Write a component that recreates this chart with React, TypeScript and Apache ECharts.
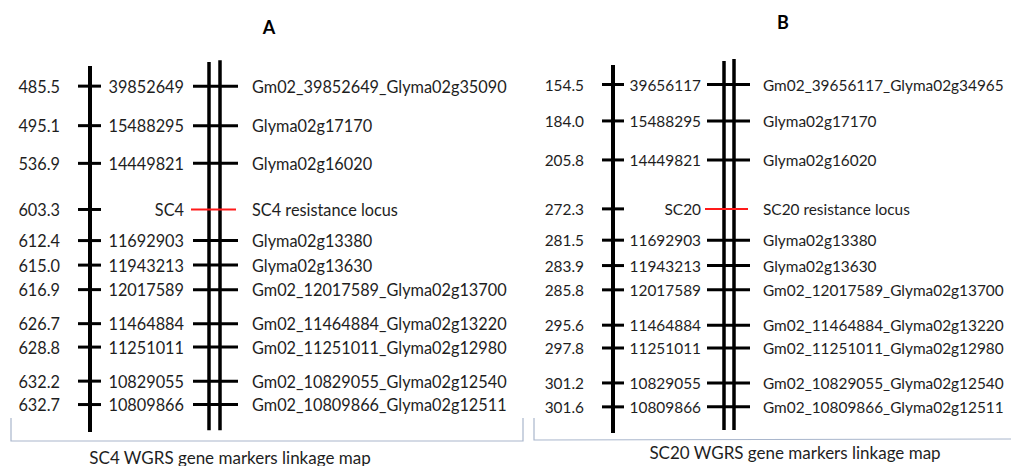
import React, { useEffect, useRef } from "react";
import * as echarts from "echarts";

// ---- Panel A data ----
const cmA = [485.5, 495.1, 536.9, 603.3, 612.4, 615.0, 616.9, 626.7, 628.8, 632.2, 632.7];
const physA = ["39852649", "15488295", "14449821", "SC4", "11692903", "11943213", "12017589", "11464884", "11251011", "10829055", "10809866"];
const namesA = [
  "Gm02_39852649_Glyma02g35090",
  "Glyma02g17170",
  "Glyma02g16020",
  "SC4 resistance locus",
  "Glyma02g13380",
  "Glyma02g13630",
  "Gm02_12017589_Glyma02g13700",
  "Gm02_11464884_Glyma02g13220",
  "Gm02_11251011_Glyma02g12980",
  "Gm02_10829055_Glyma02g12540",
  "Gm02_10809866_Glyma02g12511",
];
// drawn position along the map (% of chromosome length)
const mapPosA = [5.5, 16.3, 26.6, 39.2, 47.7, 54.4, 61.1, 70.4, 76.8, 86.1, 92.5];

// ---- Panel B data ----
const cmB = [154.5, 184.0, 205.8, 272.3, 281.5, 283.9, 285.8, 295.6, 297.8, 301.2, 301.6];
const physB = ["39656117", "15488295", "14449821", "SC20", "11692903", "11943213", "12017589", "11464884", "11251011", "10829055", "10809866"];
const namesB = [
  "Gm02_39656117_Glyma02g34965",
  "Glyma02g17170",
  "Glyma02g16020",
  "SC20 resistance locus",
  "Glyma02g13380",
  "Glyma02g13630",
  "Gm02_12017589_Glyma02g13700",
  "Gm02_11464884_Glyma02g13220",
  "Gm02_11251011_Glyma02g12980",
  "Gm02_10829055_Glyma02g12540",
  "Gm02_10809866_Glyma02g12511",
];
const mapPosB = [5.3, 15.2, 25.8, 39.1, 47.6, 54.5, 61.1, 70.7, 76.9, 86.4, 92.9];

const locusIndex = 3;
const panelTitles = ["A", "B"];
const captions = ["SC4 WGRS gene markers linkage map", "SC20 WGRS gene markers linkage map"];

const FONT = "Lato, 'Open Sans', sans-serif";
const TXT = "#1e1e1e";

type Layout = {
  gridTop: number;
  gridHeight: number;
  chromX: number;
  dblX: [number, number];
  dblTop: number;
  dblBottom: number;
  tickL: [number, number];
  tickD: [number, number];
  cmRight: number;
  physRight: number;
  nameLeft: number;
  fontSize: number;
};

const layouts: Layout[] = [
  { gridTop: 66, gridHeight: 366, chromX: 90, dblX: [209, 220], dblTop: -1.1, dblBottom: 99.5, tickL: [78, 101], tickD: [193, 238], cmRight: 60, physRight: 184, nameLeft: 252, fontSize: 16.3 },
  { gridTop: 65, gridHeight: 368, chromX: 613, dblX: [724, 734], dblTop: -1.1, dblBottom: 99.2, tickL: [602, 624], tickD: [707, 750], cmRight: 584, physRight: 701, nameLeft: 763, fontSize: 15.4 },
];

function buildPanel(idx: number, cm: number[], phys: string[], names: string[], pos: number[]) {
  const L = layouts[idx];
  const fs = L.fontSize;
  const markerSeries = {
    type: "custom",
    xAxisIndex: idx,
    yAxisIndex: idx,
    clip: false,
    silent: true,
    data: pos.map((p, i) => [0, p, i]),
    renderItem: (params: any, api: any) => {
      const i = params.dataIndex;
      const p = api.value(1);
      const [l0, y] = api.coord([L.tickL[0], p]);
      const [l1] = api.coord([L.tickL[1], p]);
      const [d0] = api.coord([L.tickD[0], p]);
      const [d1] = api.coord([L.tickD[1], p]);
      const [cx] = api.coord([L.cmRight, p]);
      const [px] = api.coord([L.physRight, p]);
      const [nx] = api.coord([L.nameLeft, p]);
      const isLocus = i === locusIndex;
      return {
        type: "group",
        children: [
          { type: "line", shape: { x1: l0, y1: y, x2: l1, y2: y }, style: { stroke: "#000", lineWidth: 3 } },
          {
            type: "line",
            shape: { x1: d0 - (isLocus ? 2 : 0), y1: y, x2: d1 - (isLocus ? 2 : 0), y2: y },
            style: { stroke: isLocus ? "#ff1a1a" : "#000", lineWidth: isLocus ? 2 : 3 },
            z2: isLocus ? 10 : 0,
          },
          { type: "text", style: { text: cm[i].toFixed(1), x: cx, y, align: "right", verticalAlign: "middle", fontSize: fs, fontFamily: FONT, fill: TXT } },
          { type: "text", style: { text: phys[i], x: px, y, align: "right", verticalAlign: "middle", fontSize: fs, fontFamily: FONT, fill: TXT } },
          { type: "text", style: { text: names[i], x: nx, y, align: "left", verticalAlign: "middle", fontSize: fs, fontFamily: FONT, fill: TXT } },
        ],
      };
    },
    z: 3,
  };
  const chromSeries = {
    type: "custom",
    xAxisIndex: idx,
    yAxisIndex: idx,
    clip: false,
    silent: true,
    data: [[0, 0, 100]],
    renderItem: (params: any, api: any) => {
      const top = api.value(1);
      const bottom = api.value(2);
      const [cx, cy0] = api.coord([L.chromX, top]);
      const [, cy1] = api.coord([L.chromX, bottom]);
      const [dx0, dy0] = api.coord([L.dblX[0], L.dblTop]);
      const [dx1, dy1] = api.coord([L.dblX[1], L.dblTop - 0.5]);
      const [, dyb] = api.coord([L.dblX[0], L.dblBottom]);
      return {
        type: "group",
        children: [
          { type: "line", shape: { x1: cx, y1: cy0, x2: cx, y2: cy1 }, style: { stroke: "#000", lineWidth: 4 } },
          { type: "line", shape: { x1: dx0, y1: dy0, x2: dx0, y2: dyb }, style: { stroke: "#000", lineWidth: 3.5 } },
          { type: "line", shape: { x1: dx1, y1: dy1, x2: dx1, y2: dyb }, style: { stroke: "#000", lineWidth: 3.5 } },
        ],
      };
    },
    z: 2,
  };
  return {
    grid: { left: 0, right: 0, top: L.gridTop, height: L.gridHeight, containLabel: false },
    xAxis: { type: "value", gridIndex: idx, min: 0, max: 1011, show: false },
    yAxis: { type: "value", gridIndex: idx, min: 0, max: 100, inverse: true, show: false },
    series: [chromSeries, markerSeries],
  };
}

export default function App() {
  const ref = useRef<HTMLDivElement>(null);
  useEffect(() => {
    if (!ref.current) return;
    const chart = echarts.init(ref.current, undefined, { renderer: "svg" });
    const pA = buildPanel(0, cmA, physA, namesA, mapPosA);
    const pB = buildPanel(1, cmB, physB, namesB, mapPosB);
    const bracketColor = "#a9b6cc";
    chart.setOption({
      animation: false,
      backgroundColor: "#ffffff",
      grid: [pA.grid, pB.grid],
      xAxis: [pA.xAxis, pB.xAxis],
      yAxis: [pA.yAxis, pB.yAxis],
      series: [...pA.series, ...pB.series],
      graphic: [
        { type: "text", x: 269, y: 27, style: { text: panelTitles[0], align: "center", verticalAlign: "middle", fontSize: 18, fontWeight: "bold", fontFamily: FONT, fill: "#000" } },
        { type: "text", x: 783, y: 22, style: { text: panelTitles[1], align: "center", verticalAlign: "middle", fontSize: 18, fontWeight: "bold", fontFamily: FONT, fill: "#000" } },
        { type: "polyline", shape: { points: [[11, 418], [11, 441], [523, 441], [523, 418]] }, style: { stroke: bracketColor, lineWidth: 1.2, fill: "none" } },
        { type: "polyline", shape: { points: [[534, 418], [534, 440], [1011, 439]] }, style: { stroke: bracketColor, lineWidth: 1.2, fill: "none" } },
        { type: "text", x: 230, y: 457, style: { text: captions[0], align: "center", verticalAlign: "middle", fontSize: 17, fontFamily: FONT, fill: TXT } },
        { type: "text", x: 795, y: 452, style: { text: captions[1], align: "center", verticalAlign: "middle", fontSize: 17, fontFamily: FONT, fill: TXT } },
      ],
    });
    return () => chart.dispose();
  }, []);
  return <div ref={ref} style={{ position: "fixed", left: 0, top: 0, width: 1011, height: 466, background: "#fff" }} />;
}
